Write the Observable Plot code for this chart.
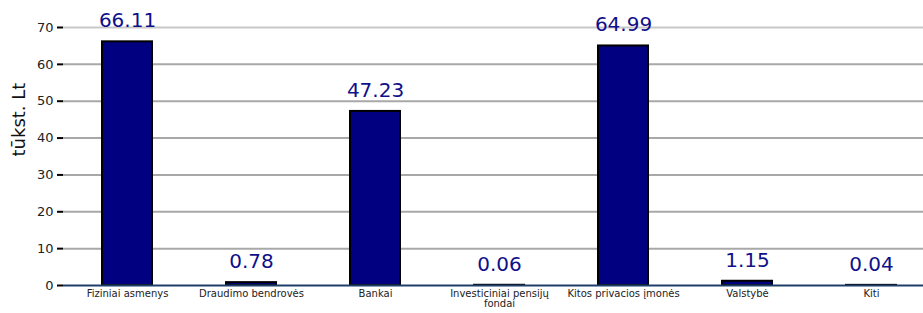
<!DOCTYPE html>
<html><head><meta charset="utf-8">
<script src="https://cdn.jsdelivr.net/npm/d3@7"></script>
<script src="https://cdn.jsdelivr.net/npm/@observablehq/plot@0.6"></script>
<style>body{margin:0;background:#fff}</style>
</head><body><div id="chart"></div>
<script>
const categories = ["Fiziniai asmenys","Draudimo bendrovės","Bankai","Investiciniai pensijų fondai","Kitos privacios įmonės","Valstybė","Kiti"];
const values = [66.11, 0.78, 47.23, 0.06, 64.99, 1.15, 0.04];
const yTicks = [0,10,20,30,40,50,60,70];
const yLabel = "tūkst. Lt";
const data = categories.map((c,i)=>({c, v: values[i]}));
const chart = Plot.plot({
  width: 923, height: 313,
  marginLeft: 63, marginRight: 0, marginTop: 27, marginBottom: 28,
  style: {fontFamily: "DejaVu Sans, Verdana, sans-serif", background: "#fff", overflow: "hidden"},
  x: {domain: categories, range: [63.5, 934.5], paddingInner: 0.6, paddingOuter: 0.3, align: 0.5},
  y: {domain: [0,70]},
  marks: [
    Plot.ruleY(yTicks.filter(t=>t>0), {stroke: d => d===70 ? "#c8c8c8" : "#a8a8a8", strokeWidth: 2}),
    Plot.barY(data, {x: "c", y: "v", fill: "#000080", stroke: "#000", strokeWidth: 2}),
    Plot.ruleY([0], {stroke: "#1f3f6a", strokeWidth: 2}),
    Plot.ruleX([0], {x: () => null, frameAnchor: "left", stroke: "#000", strokeWidth: 2}),
    Plot.axisY({ticks: yTicks, tickSize: 6, tickPadding: 4, fontSize: 13, stroke: "#000", strokeWidth: 2, label: null, color: "#222"}),
    Plot.text([yLabel], {frameAnchor: "left", dx: -44, rotate: -90, fontSize: 18, fill: "#111"}),
    Plot.axisX({tickSize: 0, tickPadding: 4, fontSize: 10, label: null, fill: "#222",
      tickFormat: d => d === "Investiciniai pensijų fondai" ? "Investiciniai pensijų\nfondai" : d, lineHeight: 1.05, textAnchor: "middle"}),
    Plot.text(data, {x: "c", y: "v", text: d => d.v.toFixed(2), dy: -21, fontSize: 20, fill: "#10108a"})
  ]
});
document.getElementById("chart").appendChild(chart);
</script>
</body></html>
